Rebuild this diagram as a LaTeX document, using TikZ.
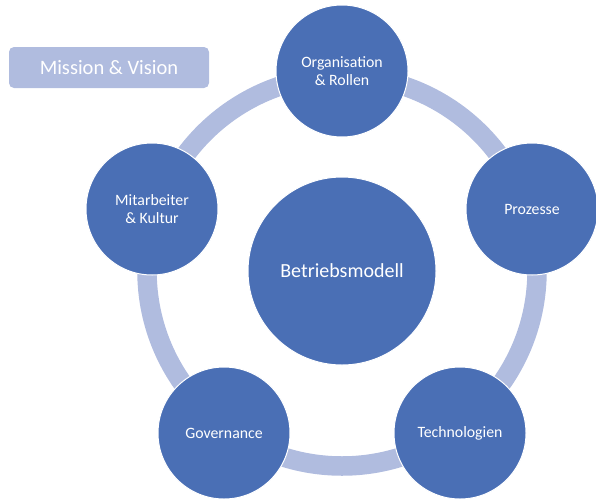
\documentclass[tikz,border=0pt]{standalone}
\usepackage{fontspec}
\setmainfont{Carlito}
\usetikzlibrary{calc}
\definecolor{kreisblau}{HTML}{4A6FB5}
\definecolor{ringblau}{HTML}{B0BCDF}

\begin{document}
\begin{tikzpicture}[x=1pt,y=-1pt,
		kreis/.style={circle,fill=kreisblau,draw=white,line width=1pt,text=white,
			minimum size=132pt,inner sep=0pt,align=center,font=\fontsize{15.8}{18.5}\selectfont}]
		\useasboundingbox (0,0) rectangle (596,498);
		\coordinate (M) at (342,271); %Mittelpunkt
		\draw[ringblau,line width=19.5pt] (M) circle[radius=195]; %Ring
		\node[kreis,minimum size=188pt,font=\fontsize{20}{24}\selectfont] (B) at (M) {Betriebsmodell};
		\node[kreis] (O) at (342,71) {Organisation\\\& Rollen};
		\node[kreis] (P) at (532,209) {Prozesse};
		\node[kreis] (T) at (460,433) {Technologien};
		\node[kreis] (G) at (224,433) {Governance};
		\node[kreis] (K) at (152,209) {Mitarbeiter\\\& Kultur};
		\node[rounded corners=5pt,fill=ringblau,text=white,minimum width=200pt,minimum height=41pt,
			font=\fontsize{20.5}{24}\selectfont] (V) at (109,67.5) {Mission \& Vision};
	\end{tikzpicture}
\end{document}
